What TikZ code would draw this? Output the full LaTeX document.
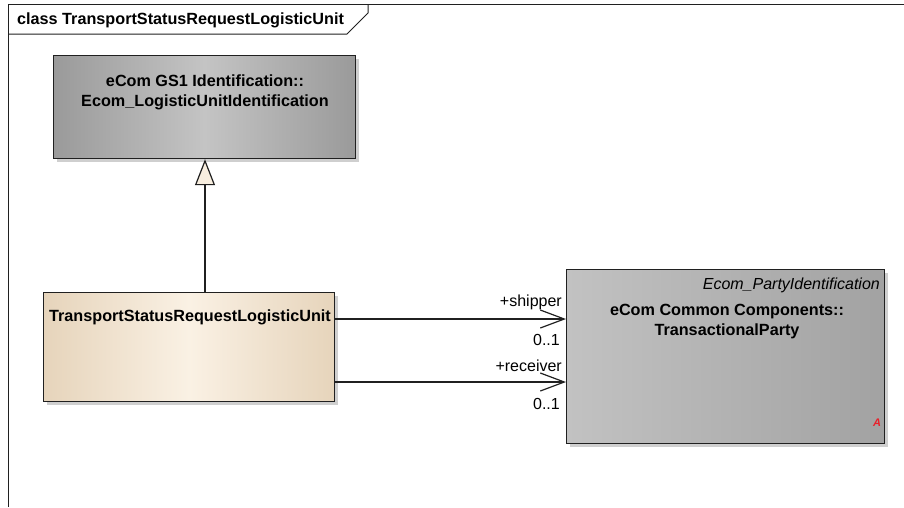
\documentclass[tikz,border=0pt]{standalone}
\usepackage{fontspec}
\setmainfont{Liberation Sans}
\usetikzlibrary{arrows.meta}
\definecolor{lineC}{HTML}{202020}
\definecolor{greyEdge}{HTML}{9A9A9A}
\definecolor{greyMid}{HTML}{C4C4C4}
\definecolor{creamEdge}{HTML}{E6D4BB}
\definecolor{creamMid}{HTML}{FAF1E4}
\definecolor{partyL}{HTML}{C2C2C2}
\definecolor{partyR}{HTML}{A2A2A2}
\definecolor{shadowC}{HTML}{CFCFCF}
\definecolor{triFill}{HTML}{F8EEDF}
\definecolor{redA}{HTML}{E8202A}
\tikzset{
  classbox/.style={draw=lineC, line width=1.2pt, anchor=north west, inner sep=0pt},
  boxshadow/.style={fill=shadowC, draw=none},
  bname/.style={font=\fontsize{16.2}{19.5}\selectfont\bfseries, align=center, inner sep=0pt},
  lbl/.style={font=\fontsize{16}{19}\selectfont, inner sep=0pt},
  assoc/.style={draw=lineC, line width=1.2pt, -{Straight Barb[length=24pt,width=18pt,line width=1.2pt]}},
  general/.style={draw=lineC, line width=1.2pt, -{Triangle[length=26pt,width=20pt,fill=triFill,line width=1.2pt]}},
}
\begin{document}
\begin{tikzpicture}[x=1pt,y=-1pt]
\useasboundingbox (0,0) rectangle (904,507);
% frame
\draw[lineC, line width=1pt] (8,507) -- (8,4.5) -- (904,4.5);
\draw[lineC, line width=1pt] (8,34) -- (347,34) -- (368,13) -- (368,4.5);
\node[anchor=west, font=\fontsize{16.2}{19}\selectfont\bfseries, inner sep=0pt] (title) at (17,20) {class TransportStatusRequestLogisticUnit};
% shadows
\fill[boxshadow] (57,59) rectangle (359,162);
\fill[boxshadow] (47,296) rectangle (338,405);
\fill[boxshadow] (570,273) rectangle (888,447);
% boxes
\node[classbox, minimum width=302pt, minimum height=103pt, left color=greyEdge, right color=greyEdge, middle color=greyMid] (lui) at (53,55) {};
\node[classbox, minimum width=291pt, minimum height=109pt, left color=creamEdge, right color=creamEdge, middle color=creamMid] (tsrl) at (43,292) {};
\node[classbox, minimum width=318pt, minimum height=174pt, left color=partyL, right color=partyR] (party) at (566,269) {};
% texts
\node[bname] (luiname) at (205,92.5) {eCom GS1 Identification::\\Ecom\_LogisticUnitIdentification};
\node[bname] (tsrlname) at (190,317) {TransportStatusRequestLogisticUnit};
\node[lbl, anchor=east, font=\fontsize{16}{19}\selectfont\itshape] (stereo) at (880,285) {Ecom\_PartyIdentification};
\node[bname] (partyname) at (727,321.5) {eCom Common Components::\\TransactionalParty};
\node[font=\fontsize{11}{13}\selectfont\bfseries\itshape, text=redA, inner sep=0pt] (abst) at (877,423) {A};
% generalization
\draw[general] (tsrl.north -| 205,0) -- (lui.south -| 205,0);
% associations
\draw[assoc] (tsrl.east |- 0,319) -- (party.west |- 0,319);
\draw[assoc] (tsrl.east |- 0,382) -- (party.west |- 0,382);
\node[lbl, anchor=east] (shipper) at (562,302) {+shipper};
\node[lbl, anchor=east] (m1) at (560,340) {0..1};
\node[lbl, anchor=east] (receiver) at (562,366) {+receiver};
\node[lbl, anchor=east] (m2) at (560,404) {0..1};
\end{tikzpicture}
\end{document}
